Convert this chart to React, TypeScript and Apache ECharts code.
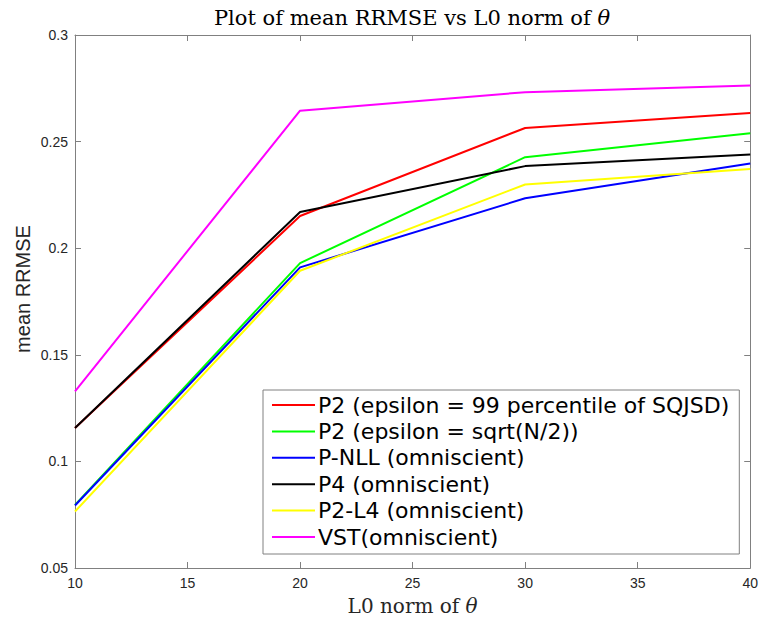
import React, { useEffect, useRef } from "react";
import * as echarts from "echarts";

const xValues = [10, 20, 30, 40];
const seriesNames = [
  "P2 (epsilon = 99 percentile of SQJSD)",
  "P2 (epsilon = sqrt(N/2))",
  "P-NLL (omniscient)",
  "P4 (omniscient)",
  "P2-L4 (omniscient)",
  "VST(omniscient)",
];
const p2Sqjsd = [0.1157, 0.2151, 0.2564, 0.2634];
const p2Sqrt = [0.0796, 0.193, 0.2427, 0.2539];
const pNll = [0.0793, 0.191, 0.2234, 0.2397];
const p4 = [0.1157, 0.217, 0.2385, 0.2439];
const p2L4 = [0.0765, 0.1894, 0.2299, 0.2371];
const vst = [0.1329, 0.2645, 0.2732, 0.2763];
const seriesValues = [p2Sqjsd, p2Sqrt, pNll, p4, p2L4, vst];
const colors = ["#ff0000", "#00ff00", "#0000ff", "#000000", "#ffff00", "#ff00ff"];
const xTicks = { min: 10, max: 40, interval: 5 };
const yTicks = { min: 0.05, max: 0.3, interval: 0.05 };

const serif = "DejaVu Serif, serif";
const sans = "Liberation Sans, Arial, sans-serif";

export default function App() {
  const ref = useRef<HTMLDivElement>(null);
  useEffect(() => {
    if (!ref.current) return;
    const chart = echarts.init(ref.current, null, { renderer: "svg" });
    const axisLine = { show: true, onZero: false, lineStyle: { color: "#808080", width: 1 } };
    const tick = { show: true, inside: true, length: 6, lineStyle: { color: "#808080" } };
    const labelStyle = { color: "#262626", fontSize: 14, fontFamily: sans };
    chart.setOption({
      animation: false,
      backgroundColor: "#ffffff",
      title: {
        text: "Plot of mean RRMSE vs L0 norm of {i|θ}",
        left: 407,
        textAlign: "center",
        top: 2,
        textStyle: {
          fontFamily: serif,
          fontWeight: "normal",
          fontSize: 21,
          color: "#000",
          rich: { i: { fontStyle: "italic", fontFamily: serif, fontSize: 21, color: "#000" } },
        },
      },
      legend: {
        orient: "vertical",
        left: 263,
        top: 390,
        backgroundColor: "#ffffff",
        borderColor: "#808080",
        borderWidth: 1,
        padding: [3, 10, 5, 9],
        itemGap: 2.4,
        itemWidth: 43,
        itemHeight: 2,
        icon: "rect",
        textStyle: { fontSize: 22, lineHeight: 24, color: "#000", fontFamily: "DejaVu Sans, sans-serif", padding: [0, 0, 0, -2] },
        data: seriesNames,
      },
      grid: { left: 75, right: 9, top: 35, bottom: 51 },
      xAxis: [
        {
          type: "value",
          ...xTicks,
          name: "L0 norm of {i|θ}",
          nameLocation: "middle",
          nameGap: 28,
          nameTextStyle: {
            fontFamily: serif,
            fontSize: 20,
            color: "#262626",
            rich: { i: { fontStyle: "italic", fontFamily: serif, fontSize: 20, color: "#262626" } },
          },
          axisLine,
          axisTick: tick,
          axisLabel: { ...labelStyle, margin: 8 },
          splitLine: { show: false },
        },
        {
          type: "value",
          position: "top",
          ...xTicks,
          axisLine,
          axisTick: tick,
          axisLabel: { show: false },
          splitLine: { show: false },
        },
      ],
      yAxis: [
        {
          type: "value",
          ...yTicks,
          axisLine,
          axisTick: tick,
          axisLabel: { ...labelStyle, margin: 7, formatter: (v: number) => String(+v.toFixed(2)) },
          splitLine: { show: false },
        },
        {
          type: "value",
          position: "right",
          ...yTicks,
          axisLine,
          axisTick: tick,
          axisLabel: { show: false },
          splitLine: { show: false },
        },
      ],
      graphic: [
        {
          type: "text",
          x: 23,
          y: 289,
          rotation: Math.PI / 2,
          style: {
            text: "mean RRMSE",
            fontFamily: sans,
            fontSize: 20,
            fill: "#262626",
            align: "center",
            verticalAlign: "middle",
          },
        },
      ],
      series: seriesNames.map((name, i) => ({
        name,
        type: "line",
        data: xValues.map((x, j) => [x, seriesValues[i][j]]),
        symbol: "none",
        color: colors[i],
        lineStyle: { width: 2, color: colors[i] },
        itemStyle: { color: colors[i] },
        z: 2 + i,
      })),
    });
    return () => chart.dispose();
  }, []);
  return <div ref={ref} style={{ width: 761, height: 621, position: "absolute", left: 0, top: 0 }} />;
}
